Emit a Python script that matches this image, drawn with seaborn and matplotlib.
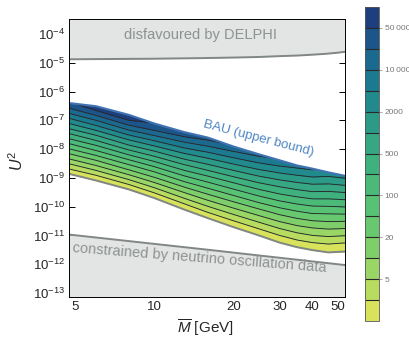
import numpy as np
import matplotlib
matplotlib.use("Agg")
import matplotlib.pyplot as plt
import matplotlib.ticker as mticker
from matplotlib.colors import ListedColormap, BoundaryNorm
from matplotlib.patches import Polygon
import seaborn as sns

mass = [4.74, 6, 8, 10, 13, 16, 20, 25, 30, 35, 40, 46, 53.2]

# log10 U^2 of the BAU upper bound (top edge of the coloured region)
bau_log = [-6.40, -6.51, -6.81, -7.11, -7.41, -7.60, -7.91, -8.18, -8.39, -8.57, -8.68, -8.81, -8.93]

# colour scale boundaries
levels = [1, 2, 5, 10, 20, 50, 100, 200, 500, 1000, 2000, 5000, 10000, 20000, 50000, 100000]

# log10 U^2 of the contour lines (levels 1 ... 50000), one row per mass
contour_log = [
    [-8.86, -8.69, -8.51, -8.34, -8.16, -7.99, -7.81, -7.64, -7.46, -7.29, -7.11, -6.93, -6.76, -6.58, -6.36],
    [-9.09, -8.91, -8.74, -8.57, -8.39, -8.22, -8.05, -7.87, -7.70, -7.52, -7.35, -7.18, -7.00, -6.83, -6.66],
    [-9.40, -9.23, -9.06, -8.89, -8.72, -8.54, -8.37, -8.20, -8.03, -7.86, -7.68, -7.51, -7.34, -7.17, -7.00],
    [-9.70, -9.52, -9.34, -9.16, -8.98, -8.79, -8.61, -8.43, -8.25, -8.07, -7.89, -7.71, -7.53, -7.35, -7.09],
    [-10.10, -9.90, -9.71, -9.51, -9.32, -9.13, -8.93, -8.74, -8.54, -8.35, -8.15, -7.96, -7.76, -7.57, -7.23],
    [-10.40, -10.20, -9.99, -9.78, -9.57, -9.36, -9.15, -8.94, -8.74, -8.53, -8.32, -8.11, -7.90, -7.69, -7.37],
    [-10.71, -10.49, -10.27, -10.05, -9.83, -9.61, -9.39, -9.17, -8.96, -8.74, -8.52, -8.30, -8.08, -7.86, -7.54],
    [-11.00, -10.77, -10.54, -10.31, -10.08, -9.86, -9.63, -9.40, -9.17, -8.94, -8.71, -8.48, -8.25, -8.02, -7.68],
    [-11.25, -11.00, -10.76, -10.52, -10.28, -10.04, -9.80, -9.56, -9.31, -9.07, -8.83, -8.59, -8.35, -8.11, -7.79],
    [-11.41, -11.16, -10.91, -10.66, -10.41, -10.16, -9.91, -9.66, -9.41, -9.16, -8.91, -8.66, -8.41, -8.16, -7.89],
    [-11.51, -11.25, -11.00, -10.74, -10.49, -10.24, -9.98, -9.73, -9.48, -9.22, -8.97, -8.72, -8.46, -8.21, -7.96],
    [-11.59, -11.30, -11.04, -10.78, -10.52, -10.25, -9.99, -9.73, -9.47, -9.21, -8.95, -8.69, -8.43, -8.17, -7.93],
    [-11.56, -11.26, -11.01, -10.76, -10.51, -10.26, -10.01, -9.76, -9.51, -9.26, -9.01, -8.76, -8.51, -8.26, -8.01],
]

# DELPHI exclusion (lower edge of the upper grey region)
delphi_mass = [4.74, 10, 15, 20, 25, 30, 35, 40, 45, 50, 53.2]
delphi_log = [-4.88, -4.86, -4.84, -4.82, -4.80, -4.77, -4.75, -4.72, -4.69, -4.65, -4.62]

# neutrino oscillation constraint (upper edge of the lower grey region)
nu_mass = [4.74, 15.7, 53.2]
nu_log = [-10.97, -11.49, -12.03]

# axis ticks
mass_ticks = [5, 10, 20, 30, 40, 50]
mass_minor = [6, 7, 8, 9, 12, 14, 16, 18, 25, 35, 45]
u2_ticks = [1e-13, 1e-12, 1e-11, 1e-10, 1e-9, 1e-8, 1e-7, 1e-6, 1e-5, 1e-4]
cbar_ticks = [5, 20, 100, 500, 2000, 10000, 50000]
cbar_labels = ["5", "20", "100", "500", "2000", "10\u2009000", "50\u2009000"]

band_colors = ["#d9e25b", "#b8dc5f", "#99d665", "#7ecf6a", "#68c86f", "#58c274",
               "#4bba79", "#3fb17e", "#36a782", "#2b9a87", "#208a8c", "#1b7a8f",
               "#1b698e", "#1c5589", "#1e3f7d"]
grey_fill = "#e3e4e4"
grey_line = "#808784"

sns.set_theme(style="ticks")
plt.rcParams["font.family"] = ["Liberation Sans", "DejaVu Sans"]
plt.rcParams["mathtext.fontset"] = "custom"
plt.rcParams["mathtext.rm"] = "Liberation Sans"
plt.rcParams["mathtext.it"] = "Liberation Sans:italic"
plt.rcParams["mathtext.bf"] = "Liberation Sans:bold"

fig = plt.figure(figsize=(4.10, 3.39), dpi=100)
ax = fig.add_axes([69 / 410, 42 / 339, 276 / 410, 278 / 339])
cax = fig.add_axes([365 / 410, 18 / 339, 14 / 410, 314 / 339])

ax.set_xscale("log")
ax.set_yscale("log")
ax.set_xlim(4.74, 53.2)
ax.set_ylim(10 ** -13.14, 10 ** -3.48)

m = np.array(mass)
curves = 10.0 ** np.array(contour_log).T
bau = 10.0 ** np.array(bau_log)

# grey excluded regions
d_m = np.array(delphi_mass)
d_u = 10.0 ** np.array(delphi_log)
ax.fill_between(d_m, d_u, 1e-2, color=grey_fill, lw=0)
sns.lineplot(x=d_m, y=d_u, color=grey_line, lw=1.4, ax=ax, estimator=None, legend=False)

n_m = np.array(nu_mass)
n_u = 10.0 ** np.array(nu_log)
ax.fill_between(n_m, 1e-15, n_u, color=grey_fill, lw=0)
sns.lineplot(x=n_m, y=n_u, color=grey_line, lw=1.4, ax=ax, estimator=None, legend=False)

# region below the BAU bound, used to clip the bands
clip = Polygon(np.column_stack([np.r_[m, m[::-1]], np.r_[bau, np.full(len(m), 1e-15)]]),
               closed=True, transform=ax.transData)

for k in range(len(band_colors)):
    top = curves[k + 1] if k + 1 < len(curves) else np.full(len(m), 1e-3)
    band = ax.fill_between(m, curves[k], top, color=band_colors[k], lw=0.3, edgecolor=band_colors[k])
    band.set_clip_path(clip)

for k in range(1, len(curves)):
    sns.lineplot(x=m, y=curves[k], color="#262626", lw=0.65, ax=ax, estimator=None, legend=False)
    ax.lines[-1].set_clip_path(clip)

sns.lineplot(x=m, y=curves[0], color=grey_line, lw=1.4, ax=ax, estimator=None, legend=False)
sns.lineplot(x=m, y=bau, color="#4173b2", lw=1.5, ax=ax, estimator=None, legend=False)

# labels inside the plot
ax.text(15.0, 10 ** -4.05, "disfavoured by DELPHI", color="#8d9390", fontsize=10.5,
        ha="center", va="center")
ax.text(14.9, 10 ** -11.79, "constrained by neutrino oscillation data", color="#8d9390",
        fontsize=10.5, ha="center", va="center", rotation=-4.5)
ax.text(25.0, 10 ** -7.62, "BAU (upper bound)", color="#4f86c2", fontsize=9.5,
        ha="center", va="center", rotation=-14.5)

# axes
ax.xaxis.set_major_locator(mticker.FixedLocator(mass_ticks))
ax.xaxis.set_major_formatter(mticker.FixedFormatter([str(t) for t in mass_ticks]))
ax.xaxis.set_minor_locator(mticker.FixedLocator(mass_minor))
ax.xaxis.set_minor_formatter(mticker.NullFormatter())
ax.yaxis.set_major_locator(mticker.FixedLocator(u2_ticks))
ax.yaxis.set_minor_locator(mticker.NullLocator())
ax.tick_params(which="both", direction="in", top=True, right=True, color="black",
               labelsize=9.5, pad=3)
ax.tick_params(which="major", length=4, width=0.7)
ax.tick_params(which="minor", length=2, width=0.5)
for s in ax.spines.values():
    s.set_color("black")
    s.set_linewidth(0.7)

ax.set_xlabel(r"$\overline{M}$ [GeV]", fontsize=11)
ax.xaxis.label.set_va("center")
ax.xaxis.set_label_coords(0.493, -0.11)
ax.set_ylabel(r"$U^2$", fontsize=11.5)
ax.yaxis.label.set_va("center")
ax.yaxis.set_label_coords(-0.188, 0.49)

# colour bar
cmap = ListedColormap(band_colors)
norm = BoundaryNorm(levels, cmap.N)
cb = fig.colorbar(matplotlib.cm.ScalarMappable(norm=norm, cmap=cmap), cax=cax,
                  drawedges=True, ticks=cbar_ticks)
cb.ax.set_yticklabels(cbar_labels)
cb.outline.set_edgecolor("#555555")
cb.outline.set_linewidth(0.6)
cb.dividers.set_color("#2a2a2a")
cb.dividers.set_linewidth(0.8)
cax.tick_params(length=2.5, width=0.5, color="#888888", labelsize=6, labelcolor="#777777", pad=1.5)
cax.minorticks_off()

fig.savefig("out.png", dpi=100)
